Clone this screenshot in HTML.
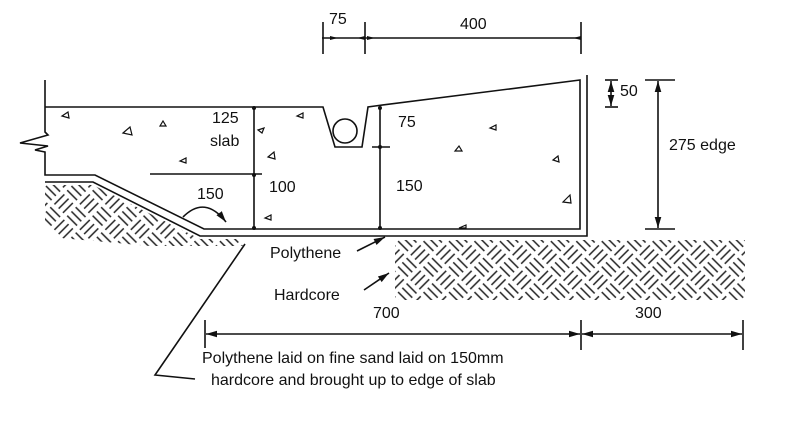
<!DOCTYPE html>
<html><head><meta charset="utf-8"><style>
html,body{margin:0;padding:0;background:#fff;}
svg{display:block;}
text{font-family:"Liberation Sans","DejaVu Sans",sans-serif;fill:#111;}
</style></head><body>
<svg width="790" height="431" viewBox="0 0 790 431" xmlns="http://www.w3.org/2000/svg">
<defs>
<pattern id="bw" width="36" height="36" patternUnits="userSpaceOnUse" patternTransform="rotate(45)">
<g stroke="#222" stroke-width="1.5">
<line x1="2" y1="3" x2="16" y2="3"/><line x1="2" y1="9" x2="16" y2="9"/><line x1="2" y1="15" x2="16" y2="15"/>
<line x1="21" y1="2" x2="21" y2="16"/><line x1="27" y1="2" x2="27" y2="16"/><line x1="33" y1="2" x2="33" y2="16"/>
<line x1="3" y1="20" x2="3" y2="34"/><line x1="9" y1="20" x2="9" y2="34"/><line x1="15" y1="20" x2="15" y2="34"/>
<line x1="20" y1="21" x2="34" y2="21"/><line x1="20" y1="27" x2="34" y2="27"/><line x1="20" y1="33" x2="34" y2="33"/>
</g></pattern>
<marker id="ar" viewBox="0 0 10 10" refX="10" refY="5" markerWidth="7" markerHeight="7" orient="auto-start-reverse"><path d="M0,2 L10,5 L0,8 z" fill="#111"/></marker>
</defs>
<path d="M45,185 L93,185 L200,239 L242,239 L245,246 L150,246 L60,238 L45,225 Z" fill="url(#bw)"/>
<rect x="395" y="240" width="350" height="60" fill="url(#bw)"/>
<g stroke="#111" stroke-width="1.6" fill="none">
<polyline points="45,80 45,132 48,135 20,143 48,146 35,150 45,152 45,175 95,175 204,229 580,229 580,80 375,106 368,107 362,147 335,147 323,107 45,107"/>
<polyline points="45,182 93,182 200,236 587,236 587,75"/>
<circle cx="345" cy="131" r="12"/>
<line x1="150" y1="174" x2="262" y2="174"/>
<line x1="254" y1="107" x2="254" y2="229"/>
<line x1="380" y1="107" x2="380" y2="229"/>
<line x1="372" y1="147" x2="390" y2="147"/>
<line x1="323" y1="22" x2="323" y2="54"/><line x1="365" y1="22" x2="365" y2="54"/><line x1="581" y1="22" x2="581" y2="54"/>
<line x1="322" y1="38" x2="581" y2="38"/>
<line x1="605" y1="80" x2="618" y2="80"/><line x1="605" y1="107" x2="618" y2="107"/>
<line x1="611" y1="81" x2="611" y2="106" marker-start="url(#ar)" marker-end="url(#ar)"/>
<line x1="645" y1="80" x2="675" y2="80"/><line x1="645" y1="229" x2="675" y2="229"/>
<line x1="658" y1="81" x2="658" y2="228" marker-start="url(#ar)" marker-end="url(#ar)"/>
<line x1="205" y1="320" x2="205" y2="348"/><line x1="581" y1="320" x2="581" y2="350"/><line x1="743" y1="320" x2="743" y2="350"/>
<line x1="206" y1="334" x2="580" y2="334" marker-start="url(#ar)" marker-end="url(#ar)"/>
<line x1="582" y1="334" x2="742" y2="334" marker-start="url(#ar)" marker-end="url(#ar)"/>
<polyline points="245,244 155,375 195,379"/>
<line x1="357" y1="251" x2="385" y2="237" marker-end="url(#ar)"/>
<line x1="364" y1="290" x2="389" y2="273" marker-end="url(#ar)"/>
<path d="M183,217 Q205,195 226,222" marker-end="url(#ar)"/>
</g>
<g fill="#111">
<path d="M330,36 l8,2 l-8,2z"/><path d="M365,36 l-8,2 l8,2z"/><path d="M367,36 l8,2 l-8,2z"/><path d="M581,36 l-8,2 l8,2z"/>
<circle cx="254" cy="108" r="2"/><circle cx="254" cy="175" r="2"/><circle cx="254" cy="228" r="2"/>
<circle cx="380" cy="108" r="2"/><circle cx="380" cy="147" r="2"/><circle cx="380" cy="228" r="2"/>
</g>
<g stroke="#111" stroke-width="1.2" fill="none">
<path d="M62,116 l6,-4 l1,6z"/><path d="M123,133 l7,-6 l2,8z"/><path d="M160,126 h6 l-3,-5z"/><path d="M180,161 l6,-3 l0,5z"/>
<path d="M268,157 l6,-5 l1,7z"/><path d="M258,130 l6,-2 l-2,5z"/><path d="M265,218 l6,-3 l0,5z"/><path d="M297,116 l6,-3 l0,5z"/>
<path d="M455,151 h7 l-3,-5z"/><path d="M490,128 l6,-3 l0,5z"/><path d="M553,160 l5,-4 l1,6z"/><path d="M563,202 l7,-7 l1,8z"/><path d="M459,228 l7,-3 l0,3z"/>
</g>
<g font-size="16">
<text x="329" y="24">75</text><text x="460" y="29">400</text>
<text x="620" y="96">50</text><text x="669" y="150">275 edge</text>
<text x="212" y="123">125</text><text x="210" y="146">slab</text>
<text x="197" y="199">150</text><text x="269" y="192">100</text>
<text x="398" y="127">75</text><text x="396" y="191">150</text>
<text x="270" y="258">Polythene</text><text x="274" y="300">Hardcore</text>
<text x="373" y="318">700</text><text x="635" y="318">300</text>
<text x="202" y="363">Polythene laid on fine sand laid on 150mm</text>
<text x="211" y="385">hardcore and brought up to edge of slab</text>
</g>
</svg>
</body></html>
